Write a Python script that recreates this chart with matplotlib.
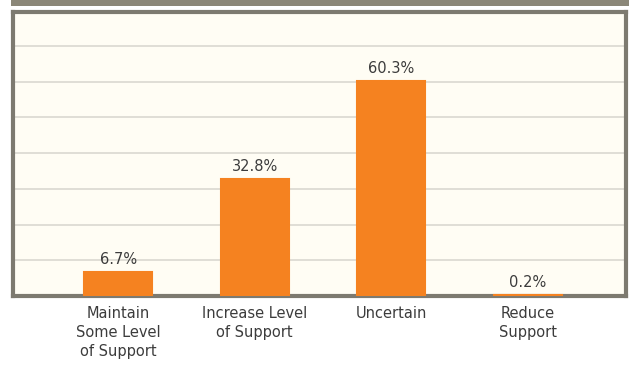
import matplotlib.pyplot as plt
from matplotlib.patches import Rectangle

# Données
categories = ['Maintain\nSome Level\nof Support', 'Increase Level\nof Support', 'Uncertain', 'Reduce\nSupport']
valeurs = [6.7, 32.8, 60.3, 0.2]
etiquettes = ['6.7%', '32.8%', '60.3%', '0.2%']

orange = '#f58220'
cadre = '#7d7a70'
texte = '#3c3c3c'

fig = plt.figure(figsize=(6.29, 3.65), dpi=100)
fig.patch.set_facecolor('white')

# bandeau gris en haut
fig.patches.append(Rectangle((11 / 629, 1 - 6 / 365), 1, 6 / 365, transform=fig.transFigure,
                             facecolor='#8b8778', edgecolor='none'))

ax = fig.add_axes([13 / 629, 69 / 365, 613 / 629, 284 / 365])
ax.set_facecolor('#fffdf4')

x = range(len(categories))
ax.bar(x, valeurs, width=0.5, color=orange, edgecolor=orange, linewidth=1.5, zorder=3)
for i, v in enumerate(valeurs):
    ax.text(i, v + 1.4, etiquettes[i], ha='center', va='bottom', fontsize=10.5, color=texte)

ax.set_xlim(-0.77, 3.72)
ax.set_ylim(0, 79.5)
ax.set_yticks([10, 20, 30, 40, 50, 60, 70])
ax.yaxis.grid(True, color='#dddbd3', linewidth=1.3, zorder=0)
ax.tick_params(axis='y', left=False, labelleft=False)
ax.tick_params(axis='x', length=0, pad=7)
ax.set_xticks(list(x))
ax.set_xticklabels(categories, fontsize=10.5, color=texte, linespacing=1.35)

for s in ax.spines.values():
    s.set_color(cadre)
    s.set_linewidth(3)

fig.savefig('out.png', dpi=100)
